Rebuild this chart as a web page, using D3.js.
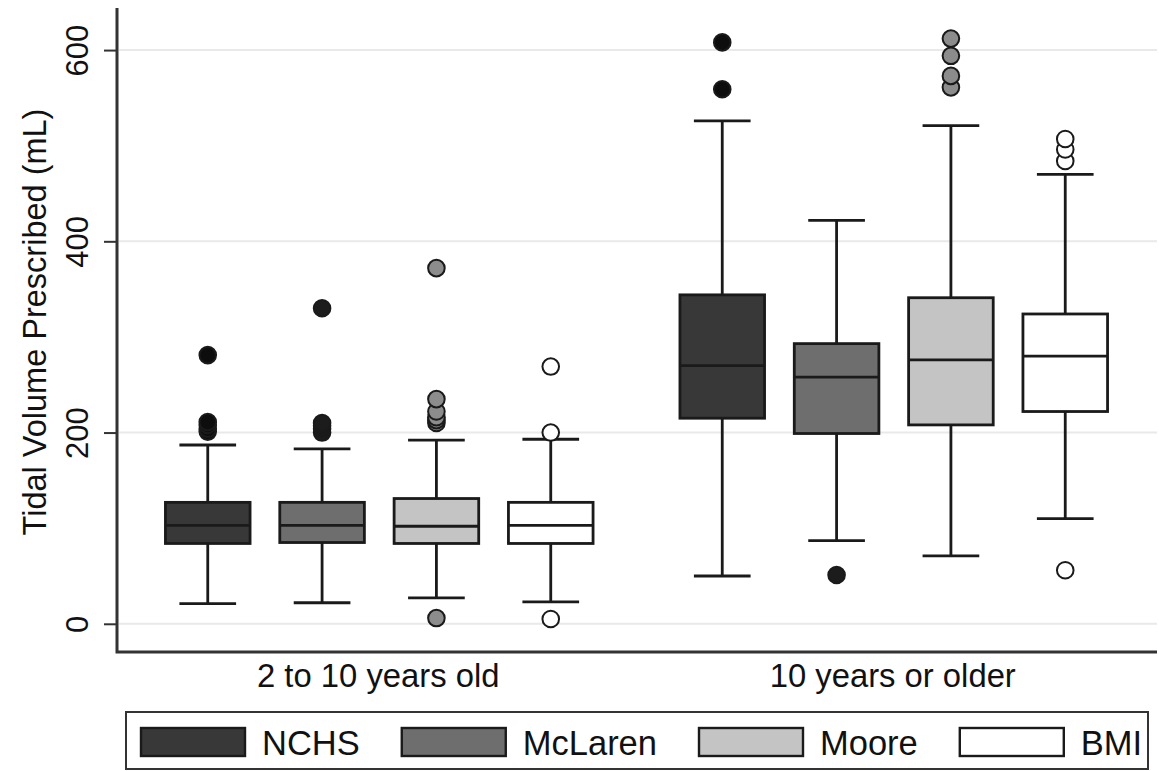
<!DOCTYPE html>
<html>
<head>
<meta charset="utf-8">
<script src="https://cdn.jsdelivr.net/npm/d3@7"></script>
<style>
  body { margin: 0; background: #fff; }
  text { font-family: "Liberation Sans", Arial, sans-serif; fill: #111; }
</style>
</head>
<body>
<div id="chart"></div>
<script>
// groups on the x axis and the four reference methods
var groups = ["2 to 10 years old", "10 years or older"];
var series = ["NCHS", "McLaren", "Moore", "BMI"];

// box plot statistics, one row per group, one value per series
var lowerWhisker = [[21, 22, 27, 23], [50, 87, 71, 110]];
var q1 = [[84, 85, 84, 84], [215, 199, 208, 222]];
var medians = [[103, 103, 102, 103], [270, 258, 276, 280]];
var q3 = [[127, 127, 131, 127], [344, 293, 341, 324]];
var upperWhisker = [[187, 183, 192, 193], [526, 422, 521, 470]];
var outliers = [
  [[201, 204, 208, 211, 281], [200, 204, 207, 210, 330], [6, 210, 213, 216, 222, 235, 372], [5, 200, 269]],
  [[559, 608], [51], [561, 573, 594, 612], [56, 484, 496, 507]]
];
var yTicks = [0, 200, 400, 600];

var boxFill = ["#383838", "#6e6e6e", "#c4c4c4", "#ffffff"];
var dotFill = ["#0d0d0d", "#1c1c1c", "#8c8c8c", "#ffffff"];

var svgWidth = 1159, svgHeight = 771;
var plot = { left: 117, right: 1157, top: 8, bottom: 652 };

var svg = d3.select("#chart").append("svg")
  .attr("width", svgWidth)
  .attr("height", svgHeight);

var yScale = d3.scaleLinear()
  .domain([-29.5, 644])
  .range([plot.bottom, plot.top]);

var xOuter = d3.scaleBand()
  .domain(groups)
  .range([122, 1151])
  .paddingInner(0);

var xInner = d3.scaleBand()
  .domain(series)
  .range([0, xOuter.bandwidth()])
  .paddingInner(0.26)
  .paddingOuter(0.38);

// gridlines
svg.append("g").selectAll("line")
  .data(yTicks)
  .enter().append("line")
  .attr("x1", plot.left + 2).attr("x2", plot.right)
  .attr("y1", d => yScale(d)).attr("y2", d => yScale(d))
  .attr("stroke", "#e9e9e9")
  .attr("stroke-width", 2);

// y axis
var yAxis = d3.axisLeft(yScale).tickValues(yTicks).tickSize(13).tickSizeOuter(0);
var yG = svg.append("g")
  .attr("transform", `translate(${plot.left},0)`)
  .call(yAxis);
yG.select(".domain").remove();
yG.selectAll(".tick line").attr("stroke", "#333").attr("stroke-width", 2);
yG.selectAll(".tick text")
  .attr("font-size", 31)
  .attr("fill", "#111")
  .attr("transform", "rotate(-90)")
  .attr("x", 0).attr("y", -29)
  .attr("dy", 0)
  .attr("text-anchor", "middle");

// axis lines
svg.append("path")
  .attr("d", `M${plot.left},${plot.top}V${plot.bottom}H${plot.right}`)
  .attr("fill", "none")
  .attr("stroke", "#333")
  .attr("stroke-width", 3);

// y label
svg.append("text")
  .attr("transform", `translate(46, ${(537 + 107) / 2}) rotate(-90)`)
  .attr("text-anchor", "middle")
  .attr("font-size", 32.5)
  .text("Tidal Volume Prescribed (mL)");

// x labels
svg.append("g").selectAll("text")
  .data(groups)
  .enter().append("text")
  .attr("x", d => xOuter(d) + xOuter.bandwidth() / 2 - 1)
  .attr("y", 687)
  .attr("text-anchor", "middle")
  .attr("font-size", 32.8)
  .text(d => d);

// boxes
var boxes = [];
groups.forEach(function(g, gi) {
  series.forEach(function(s, si) {
    boxes.push({
      group: g, series: s, si: si,
      lo: lowerWhisker[gi][si], q1: q1[gi][si], med: medians[gi][si],
      q3: q3[gi][si], hi: upperWhisker[gi][si], out: outliers[gi][si]
    });
  });
});

var bw = xInner.bandwidth();
var capW = bw * 0.67;

var boxG = svg.append("g").selectAll("g")
  .data(boxes)
  .enter().append("g")
  .attr("transform", d => `translate(${xOuter(d.group) + xInner(d.series)},0)`);

// whiskers
boxG.append("line")
  .attr("x1", bw / 2).attr("x2", bw / 2)
  .attr("y1", d => yScale(d.hi)).attr("y2", d => yScale(d.lo))
  .attr("stroke", "#1a1a1a").attr("stroke-width", 2.8);
boxG.append("line")
  .attr("x1", (bw - capW) / 2).attr("x2", (bw + capW) / 2)
  .attr("y1", d => yScale(d.hi)).attr("y2", d => yScale(d.hi))
  .attr("stroke", "#1a1a1a").attr("stroke-width", 2.8);
boxG.append("line")
  .attr("x1", (bw - capW) / 2).attr("x2", (bw + capW) / 2)
  .attr("y1", d => yScale(d.lo)).attr("y2", d => yScale(d.lo))
  .attr("stroke", "#1a1a1a").attr("stroke-width", 2.8);

boxG.append("rect")
  .attr("x", 0).attr("width", bw)
  .attr("y", d => yScale(d.q3))
  .attr("height", d => yScale(d.q1) - yScale(d.q3))
  .attr("fill", d => boxFill[d.si])
  .attr("stroke", "#1a1a1a").attr("stroke-width", 2.8);

boxG.append("line")
  .attr("x1", 0).attr("x2", bw)
  .attr("y1", d => yScale(d.med)).attr("y2", d => yScale(d.med))
  .attr("stroke", "#1a1a1a").attr("stroke-width", 2.8);

// outliers
boxG.selectAll("circle")
  .data(d => d.out.map(v => ({ v: v, si: d.si })))
  .enter().append("circle")
  .attr("cx", bw / 2)
  .attr("cy", d => yScale(d.v))
  .attr("r", 8.3)
  .attr("fill", d => dotFill[d.si])
  .attr("stroke", "#1a1a1a")
  .attr("stroke-width", 2);

// legend
var legend = svg.append("g");
legend.append("rect")
  .attr("x", 126).attr("y", 712)
  .attr("width", 1022).attr("height", 57)
  .attr("fill", "#fff")
  .attr("stroke", "#333").attr("stroke-width", 2);

var lx = 141;
series.forEach(function(s, i) {
  legend.append("rect")
    .attr("x", lx).attr("y", 728)
    .attr("width", 104).attr("height", 28)
    .attr("fill", boxFill[i])
    .attr("stroke", "#1a1a1a").attr("stroke-width", 2.4);
  var t = legend.append("text")
    .attr("x", lx + 121).attr("y", 755)
    .attr("font-size", 34.5)
    .text(s);
  lx += 121 + t.node().getComputedTextLength() + 42;
});
</script>
</body>
</html>
